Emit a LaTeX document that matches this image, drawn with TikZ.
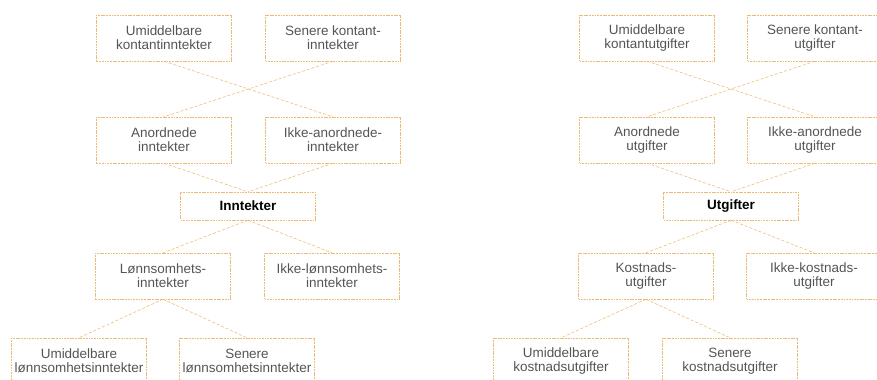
\documentclass[tikz,border=0pt]{standalone}
\usepackage{fontspec}
\setmainfont{Liberation Sans}
\usepackage{xcolor}
\definecolor{boxorange}{RGB}{236,188,118}
\definecolor{lineorange}{RGB}{240,176,90}
\definecolor{txtgray}{RGB}{85,85,85}
\usepackage{tikz}
\usetikzlibrary{arrows.meta, positioning}

\begin{document}
\begin{tikzpicture}[x=0.03cm, y=-0.03cm,
  post/.style={draw=boxorange, dash pattern=on 1.6pt off 0.7pt, fill=white,
               minimum width=4.05cm, minimum height=1.38cm, inner sep=1pt,
               align=center, text=txtgray, font=\fontsize{11.5}{12}\selectfont},
  sumpost/.style={post, minimum height=0.84cm, text=black,
               font=\fontsize{11.5}{12}\selectfont\bfseries},
  link/.style={draw=lineorange, thin, dash pattern=on 2.6pt off 1.6pt}]

\useasboundingbox[fill=white] (0,0) rectangle (877,379);

% === Left tree: Inntekter ===
\node[post] (ukinn) at (164,38) {Umiddelbare\\kontantinntekter};
\node[post] (skinn) at (333,38) {Senere kontant-\\inntekter};
\node[post] (aninn) at (164,140) {Anordnede\\inntekter};
\node[post] (ikinn) at (333,140) {Ikke-anordnede-\\inntekter};
\node[sumpost] (inn) at (248,206) {Inntekter};
\node[post] (lsinn) at (163,276) {Lønnsomhets-\\inntekter};
\node[post] (ilinn) at (332,276) {Ikke-lønnsomhets-\\inntekter};
\node[post] (ulinn) at (79,361) {Umiddelbare\\lønnsomhetsinntekter};
\node[post] (slinn) at (247,361) {Senere\\lønnsomhetsinntekter};

% crossing links
\draw[link] (ukinn.south) -- (ikinn.north);
\draw[link] (skinn.south) -- (aninn.north);
\draw[link] (aninn.south) -- (inn.north);
\draw[link] (ikinn.south) -- (inn.north);
\draw[link] (inn.south) -- (lsinn.north);
\draw[link] (inn.south) -- (ilinn.north);
\draw[link] (lsinn.south) -- (ulinn.north);
\draw[link] (lsinn.south) -- (slinn.north);

% === Right tree: Utgifter ===
\node[post] (ukutg) at (647,38) {Umiddelbare\\kontantutgifter};
\node[post] (skutg) at (815,38) {Senere kontant-\\utgifter};
\node[post] (anutg) at (647,140) {Anordnede\\utgifter};
\node[post] (ikutg) at (815,140) {Ikke-anordnede\\utgifter};
\node[sumpost] (utg) at (731,206) {Utgifter};
\node[post] (koutg) at (646,276) {Kostnads-\\utgifter};
\node[post] (ikoutg) at (814,276) {Ikke-kostnads-\\utgifter};
\node[post] (ukoutg) at (561,361) {Umiddelbare\\kostnadsutgifter};
\node[post] (skoutg) at (730,361) {Senere\\kostnadsutgifter};

% crossing links
\draw[link] (ukutg.south) -- (ikutg.north);
\draw[link] (skutg.south) -- (anutg.north);
\draw[link] (anutg.south) -- (utg.north);
\draw[link] (ikutg.south) -- (utg.north);
\draw[link] (utg.south) -- (koutg.north);
\draw[link] (utg.south) -- (ikoutg.north);
\draw[link] (koutg.south) -- (ukoutg.north);
\draw[link] (koutg.south) -- (skoutg.north);

\end{tikzpicture}
\end{document}
